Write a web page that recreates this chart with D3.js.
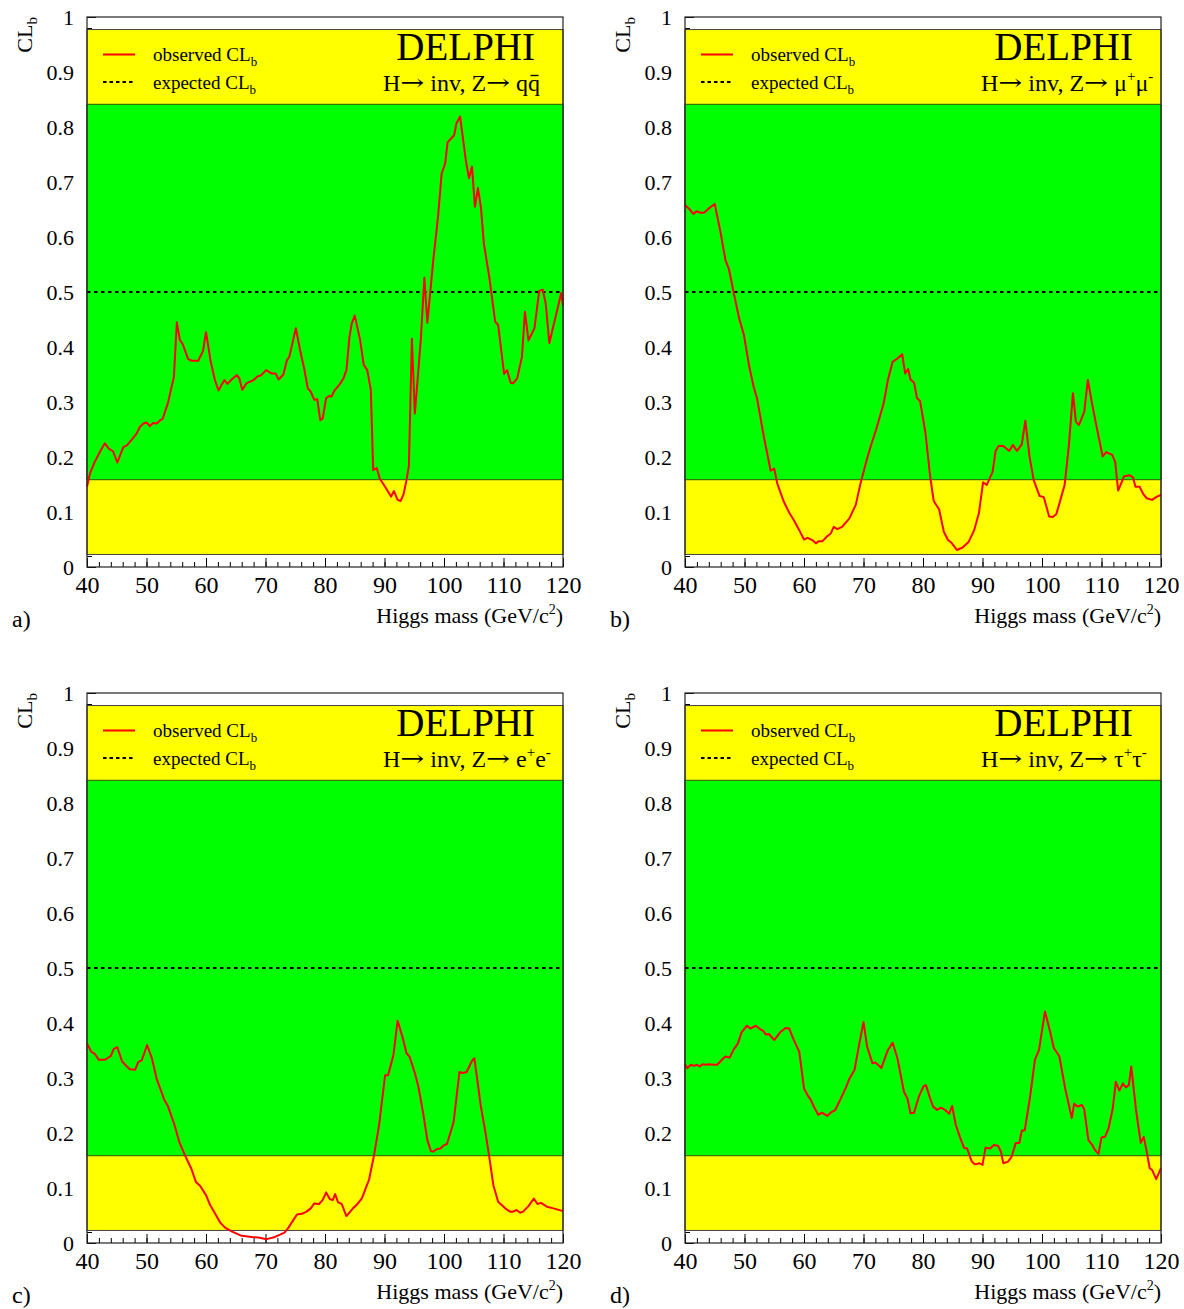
<!DOCTYPE html>
<html><head><meta charset="utf-8">
<script src="https://cdn.jsdelivr.net/npm/d3@7"></script>
<style>body{margin:0;background:#fff}svg text{font-family:"Liberation Serif","Times New Roman",serif;fill:#000}</style>
</head><body>
<svg id="chart" width="1184" height="1309"></svg>
<script>
// ---------- data ----------
const xTicks = [40, 50, 60, 70, 80, 90, 100, 110, 120];
const yTicks = [0, 0.1, 0.2, 0.3, 0.4, 0.5, 0.6, 0.7, 0.8, 0.9, 1];
const band2sigma = [0.0228, 0.9772];
const band1sigma = [0.1587, 0.8413];
const expectedCLb = 0.5;
const panelLetters = ["a)", "b)", "c)", "d)"];
const channelNames = ["qq", "mumu", "ee", "tautau"];

// observed CL_b : [Higgs mass, CL_b]
const obsQQ = [[40.0,0.146],[40.5,0.170],[41.3,0.191],[42.2,0.210],[43.0,0.225],[43.6,0.216],[44.4,0.210],[45.1,0.190],[46.1,0.218],[46.7,0.221],[47.5,0.231],[48.3,0.242],[48.9,0.255],[49.5,0.261],[50.0,0.263],[50.6,0.256],[51.1,0.262],[51.7,0.261],[52.3,0.267],[52.7,0.269],[53.6,0.298],[54.1,0.322],[54.6,0.345],[55.1,0.445],[55.6,0.413],[56.1,0.405],[57.0,0.378],[57.6,0.375],[58.7,0.375],[59.5,0.393],[60.0,0.427],[60.8,0.373],[61.5,0.340],[62.1,0.321],[62.6,0.331],[63.1,0.340],[63.6,0.333],[64.3,0.341],[65.2,0.349],[65.6,0.343],[66.1,0.322],[66.8,0.334],[67.4,0.337],[67.9,0.339],[68.7,0.347],[69.2,0.348],[70.1,0.358],[71.0,0.352],[71.7,0.352],[72.2,0.341],[73.0,0.350],[73.6,0.376],[74.0,0.382],[75.1,0.434],[75.8,0.395],[76.5,0.361],[77.1,0.325],[77.6,0.319],[78.2,0.304],[78.7,0.305],[79.2,0.267],[79.6,0.270],[80.2,0.307],[80.7,0.311],[81.1,0.310],[81.6,0.321],[82.4,0.331],[83.1,0.343],[83.6,0.358],[84.1,0.417],[84.5,0.443],[85.0,0.457],[85.9,0.413],[86.5,0.368],[87.1,0.358],[87.7,0.322],[88.1,0.176],[88.7,0.180],[89.2,0.161],[90.1,0.146],[91.1,0.128],[91.6,0.138],[92.2,0.122],[92.7,0.120],[93.2,0.132],[93.7,0.158],[94.1,0.184],[94.6,0.415],[95.1,0.279],[96.1,0.413],[96.7,0.526],[97.2,0.444],[98.2,0.558],[99.0,0.637],[99.6,0.715],[100.2,0.734],[100.6,0.772],[101.7,0.785],[102.1,0.807],[102.7,0.819],[103.7,0.737],[104.2,0.707],[104.7,0.728],[105.2,0.655],[105.7,0.689],[106.2,0.655],[106.7,0.588],[107.6,0.528],[108.6,0.446],[109.1,0.440],[110.1,0.351],[110.6,0.358],[111.2,0.335],[111.6,0.334],[112.3,0.343],[113.1,0.382],[113.6,0.464],[114.2,0.412],[115.2,0.434],[116.0,0.502],[116.6,0.504],[117.1,0.479],[117.7,0.407],[119.7,0.498],[120.0,0.476]];

const obsMuMu = [[40.0,0.658],[40.8,0.650],[41.4,0.642],[42.0,0.647],[42.6,0.644],[43.2,0.644],[44.0,0.652],[45.0,0.660],[46.0,0.607],[46.8,0.558],[47.4,0.541],[48.2,0.498],[49.1,0.452],[49.9,0.422],[50.8,0.364],[51.6,0.325],[52.1,0.307],[53.3,0.234],[54.4,0.175],[55.0,0.179],[55.5,0.152],[56.6,0.119],[57.5,0.099],[58.3,0.085],[59.2,0.067],[60.0,0.050],[60.6,0.053],[61.4,0.049],[62.0,0.043],[62.5,0.047],[63.1,0.047],[63.9,0.056],[64.5,0.061],[65.0,0.073],[65.6,0.069],[66.4,0.073],[67.6,0.088],[68.7,0.113],[69.5,0.152],[70.4,0.189],[71.2,0.219],[72.1,0.249],[72.9,0.279],[73.4,0.298],[74.1,0.340],[74.9,0.373],[75.7,0.379],[76.5,0.387],[77.0,0.352],[77.5,0.360],[77.9,0.341],[78.5,0.335],[79.0,0.307],[79.5,0.302],[80.4,0.245],[81.2,0.165],[81.8,0.120],[82.7,0.105],[83.5,0.064],[84.2,0.049],[84.8,0.044],[85.7,0.031],[86.6,0.035],[87.7,0.046],[88.6,0.067],[89.4,0.098],[90.1,0.154],[90.7,0.149],[91.7,0.173],[92.2,0.211],[92.7,0.220],[93.5,0.220],[94.5,0.211],[95.1,0.222],[95.8,0.211],[96.6,0.223],[97.2,0.266],[97.9,0.201],[98.6,0.158],[99.6,0.129],[100.3,0.127],[101.2,0.092],[101.8,0.091],[102.4,0.096],[103.1,0.122],[103.8,0.149],[104.5,0.219],[105.2,0.316],[105.7,0.264],[106.2,0.258],[107.1,0.282],[107.7,0.340],[108.5,0.292],[109.4,0.243],[110.2,0.201],[110.8,0.209],[111.8,0.204],[112.3,0.191],[112.8,0.139],[113.8,0.165],[114.7,0.167],[115.3,0.163],[115.7,0.146],[116.4,0.146],[117.0,0.133],[117.6,0.125],[118.5,0.122],[119.3,0.128],[120.0,0.131]];

const obsEE = [[40.0,0.363],[40.7,0.348],[41.3,0.344],[42.0,0.333],[43.0,0.333],[44.0,0.340],[44.5,0.353],[45.1,0.356],[45.9,0.330],[46.7,0.321],[47.2,0.316],[48.1,0.315],[48.6,0.329],[49.2,0.332],[50.1,0.360],[50.9,0.336],[51.7,0.299],[53.0,0.260],[53.6,0.249],[54.7,0.215],[55.5,0.184],[56.4,0.161],[57.5,0.136],[58.3,0.111],[59.0,0.104],[60.0,0.087],[60.7,0.069],[61.4,0.056],[62.4,0.037],[63.2,0.028],[64.3,0.021],[66.0,0.013],[67.7,0.011],[68.8,0.010],[70.2,0.007],[71.6,0.011],[73.2,0.019],[73.8,0.027],[74.7,0.042],[75.3,0.052],[76.1,0.053],[76.9,0.057],[77.6,0.063],[78.2,0.072],[79.0,0.071],[79.6,0.078],[80.2,0.092],[80.8,0.080],[81.3,0.078],[81.7,0.089],[82.2,0.074],[82.8,0.071],[83.6,0.049],[84.7,0.063],[85.3,0.069],[86.2,0.081],[86.9,0.101],[87.4,0.115],[88.2,0.157],[89.1,0.215],[90.1,0.305],[90.6,0.305],[91.5,0.342],[92.2,0.404],[93.1,0.372],[93.7,0.345],[94.2,0.339],[95.1,0.309],[95.7,0.284],[96.5,0.236],[97.2,0.187],[97.8,0.167],[98.2,0.166],[98.8,0.171],[99.4,0.172],[99.9,0.177],[100.5,0.180],[101.6,0.219],[102.6,0.311],[103.2,0.309],[103.8,0.311],[104.7,0.331],[105.1,0.336],[106.2,0.248],[107.0,0.199],[107.6,0.157],[108.3,0.105],[109.1,0.075],[110.3,0.063],[111.1,0.057],[111.6,0.057],[112.2,0.060],[112.8,0.055],[113.3,0.057],[114.2,0.067],[115.1,0.081],[115.7,0.071],[116.3,0.073],[117.3,0.066],[118.4,0.063],[120.0,0.058]];

const obsTauTau = [[40.0,0.325],[40.4,0.318],[41.0,0.324],[41.5,0.322],[42.0,0.324],[42.5,0.321],[42.9,0.325],[43.5,0.324],[44.0,0.325],[44.9,0.324],[45.4,0.324],[46.3,0.334],[46.8,0.339],[47.5,0.337],[48.2,0.352],[48.9,0.363],[49.5,0.383],[50.4,0.395],[51.0,0.390],[51.9,0.395],[52.6,0.389],[53.1,0.386],[53.6,0.379],[54.1,0.380],[55.0,0.369],[56.0,0.383],[56.9,0.391],[57.5,0.390],[58.3,0.369],[59.2,0.348],[60.0,0.281],[60.7,0.267],[61.1,0.261],[61.8,0.245],[62.4,0.233],[63.0,0.237],[63.9,0.231],[64.6,0.238],[65.2,0.241],[66.2,0.263],[67.1,0.284],[67.6,0.298],[68.5,0.315],[69.2,0.357],[70.0,0.402],[70.6,0.357],[71.5,0.327],[72.0,0.328],[73.0,0.318],[74.1,0.351],[74.9,0.364],[75.7,0.336],[76.8,0.275],[77.4,0.262],[77.9,0.236],[78.5,0.237],[79.3,0.266],[80.1,0.285],[80.5,0.287],[81.2,0.263],[81.7,0.248],[82.4,0.242],[83.0,0.246],[83.7,0.242],[84.4,0.235],[84.9,0.249],[85.5,0.215],[86.2,0.193],[86.9,0.173],[87.4,0.172],[88.2,0.148],[88.7,0.143],[89.5,0.145],[90.0,0.142],[90.5,0.173],[91.3,0.172],[91.9,0.178],[92.6,0.177],[93.1,0.166],[93.5,0.145],[94.3,0.148],[94.9,0.157],[95.6,0.182],[96.2,0.182],[96.6,0.204],[97.1,0.205],[98.0,0.266],[98.8,0.333],[99.5,0.351],[100.5,0.421],[101.3,0.387],[102.0,0.354],[102.9,0.340],[103.9,0.281],[105.0,0.227],[105.4,0.253],[106.0,0.248],[106.7,0.251],[107.1,0.243],[107.8,0.187],[108.4,0.179],[108.9,0.169],[109.5,0.162],[110.0,0.192],[110.6,0.193],[111.2,0.209],[111.9,0.245],[112.4,0.293],[113.0,0.277],[113.6,0.290],[114.1,0.283],[114.6,0.287],[115.0,0.321],[115.8,0.242],[116.6,0.182],[117.1,0.193],[117.6,0.166],[118.1,0.136],[118.5,0.133],[119.2,0.116],[120.0,0.136]];

const observedSeries = [obsQQ, obsMuMu, obsEE, obsTauTau];

// ---------- layout ----------
const svg = d3.select("#chart");
const W = 476, H = 550;
const origins = [[87, 17], [685, 17], [87, 693], [685, 693]];
const serif = '"Liberation Serif","Times New Roman",serif';
const arrowFont = '"DejaVu Serif","DejaVu Sans",serif';

const x = d3.scaleLinear().domain([40, 120]).range([0, W]);
const y = d3.scaleLinear().domain([0, 1]).range([H, 0]);

function addTitle(g, idx) {
  const base = 74;
  let cx = 296;
  const plain = (str) => {
    const t = g.append("text").attr("x", cx).attr("y", base).attr("font-size", 24)
      .style("white-space", "pre").text(str);
    cx += t.node().getComputedTextLength();
  };
  const arrow = () => {
    const sx = 1.3;
    const t = g.append("text").attr("transform", `translate(${cx},${base - 1}) scale(${sx},1)`)
      .style("font-family", arrowFont).style("font-size", "22px").text("\u2192");
    cx += t.node().getComputedTextLength() * sx;
  };
  plain("H"); arrow(); plain(" inv, Z"); arrow(); cx += 6;
  const t = g.append("text").attr("x", cx).attr("y", base).attr("font-size", 24);
  const ch = channelNames[idx];
  if (ch === "qq") {
    t.append("tspan").text("q");
    t.append("tspan").text("q");
    const node = t.node();
    const n = node.getNumberOfChars();
    const ext = node.getExtentOfChar(n - 1);
    g.append("line").attr("x1", ext.x + 2.5).attr("x2", ext.x + ext.width - 1.5)
      .attr("y1", 58.5).attr("y2", 58.5).attr("stroke", "#000").attr("stroke-width", 1.4);
  } else {
    const sym = ch === "mumu" ? "\u03bc" : ch === "ee" ? "e" : "\u03c4";
    t.append("tspan").text(sym);
    t.append("tspan").attr("font-size", 15).attr("dy", -10).text("+");
    t.append("tspan").attr("dy", 10).text(sym);
    t.append("tspan").attr("font-size", 15).attr("dy", -10).text("-");
  }
}

origins.forEach((o, i) => {
  const g = svg.append("g").attr("transform", `translate(${o[0]},${o[1]})`);

  // ticks (drawn first; bands cover the inner part)
  g.append("g").attr("transform", `translate(0,${H})`)
    .call(d3.axisBottom(x).tickValues(d3.range(40, 121, 2)).tickSizeInner(-5).tickSizeOuter(0).tickFormat(""))
    .call(a => a.select(".domain").remove());
  const xa = g.append("g").attr("transform", `translate(0,${H})`)
    .call(d3.axisBottom(x).tickValues(xTicks).tickSizeInner(-9).tickSizeOuter(0).tickPadding(9))
    .call(a => a.select(".domain").remove());
  xa.selectAll("text").attr("font-size", 24).attr("font-family", serif);

  g.append("g")
    .call(d3.axisLeft(y).tickValues(d3.range(0, 1.0001, 0.02)).tickSizeInner(-5).tickSizeOuter(0).tickFormat(""))
    .call(a => a.select(".domain").remove());
  const ya = g.append("g")
    .call(d3.axisLeft(y).tickValues(yTicks).tickSizeInner(-9).tickSizeOuter(0).tickPadding(13)
      .tickFormat(d => (d === 0 ? "0" : d === 1 ? "1" : d3.format(".1f")(d))))
    .call(a => a.select(".domain").remove());
  ya.selectAll("text").attr("font-size", 22).attr("font-family", serif);
  g.selectAll(".tick line").attr("stroke", "#000").attr("stroke-width", 1);

  // bands
  g.append("rect").attr("x", x(40)).attr("width", x(120) - x(40))
    .attr("y", y(band2sigma[1])).attr("height", y(band2sigma[0]) - y(band2sigma[1]))
    .attr("fill", "#ffff00").attr("stroke", "#444").attr("stroke-width", 1);
  g.append("rect").attr("x", x(40)).attr("width", x(120) - x(40))
    .attr("y", y(band1sigma[1])).attr("height", y(band1sigma[0]) - y(band1sigma[1]))
    .attr("fill", "#00ff00").attr("stroke", "#2a5a00").attr("stroke-width", 1);

  // expected
  g.append("line").attr("x1", x(40)).attr("x2", x(120))
    .attr("y1", y(expectedCLb)).attr("y2", y(expectedCLb))
    .attr("stroke", "#000").attr("stroke-width", 2).attr("stroke-dasharray", "3.5,3.5");

  // observed
  g.append("path").datum(observedSeries[i])
    .attr("d", d3.line().x(d => x(d[0])).y(d => y(d[1])))
    .attr("fill", "none").attr("stroke", "#ff0000").attr("stroke-width", 2).attr("stroke-linejoin", "round");

  // frame
  g.append("rect").attr("x", 0).attr("y", 0).attr("width", W).attr("height", H)
    .attr("fill", "none").attr("stroke", "#222").attr("stroke-width", 1.2);

  // legend
  g.append("line").attr("x1", 16).attr("x2", 48).attr("y1", 37.5).attr("y2", 37.5)
    .attr("stroke", "#ff0000").attr("stroke-width", 2);
  g.append("line").attr("x1", 16).attr("x2", 48).attr("y1", 65).attr("y2", 65)
    .attr("stroke", "#000").attr("stroke-width", 2).attr("stroke-dasharray", "3.5,3");
  [["observed CL", 44], ["expected CL", 72]].forEach(([txt, by]) => {
    const t = g.append("text").attr("x", 66).attr("y", by).attr("font-size", 19);
    t.append("tspan").text(txt);
    t.append("tspan").attr("font-size", 13).attr("dy", 5).text("b");
  });

  // DELPHI label
  g.append("text").attr("x", 448).attr("y", 43).attr("text-anchor", "end")
    .attr("font-size", 39).text("DELPHI");
  addTitle(g, i);

  // y axis title
  const yt = g.append("text").attr("transform", `translate(-55,0) rotate(-90)`)
    .attr("text-anchor", "end").attr("font-size", 22);
  yt.append("tspan").text("CL");
  yt.append("tspan").attr("font-size", 15).attr("dy", 5).text("b");

  // x axis title
  const xt = g.append("text").attr("x", W).attr("y", H + 56).attr("text-anchor", "end").attr("font-size", 22);
  xt.append("tspan").text("Higgs mass (GeV/c");
  xt.append("tspan").attr("font-size", 14).attr("dy", -9).text("2");
  xt.append("tspan").attr("dy", 9).text(")");

  // panel letter
  g.append("text").attr("x", -75).attr("y", H + 60).attr("font-size", 24).text(panelLetters[i]);
});
</script>
</body></html>
